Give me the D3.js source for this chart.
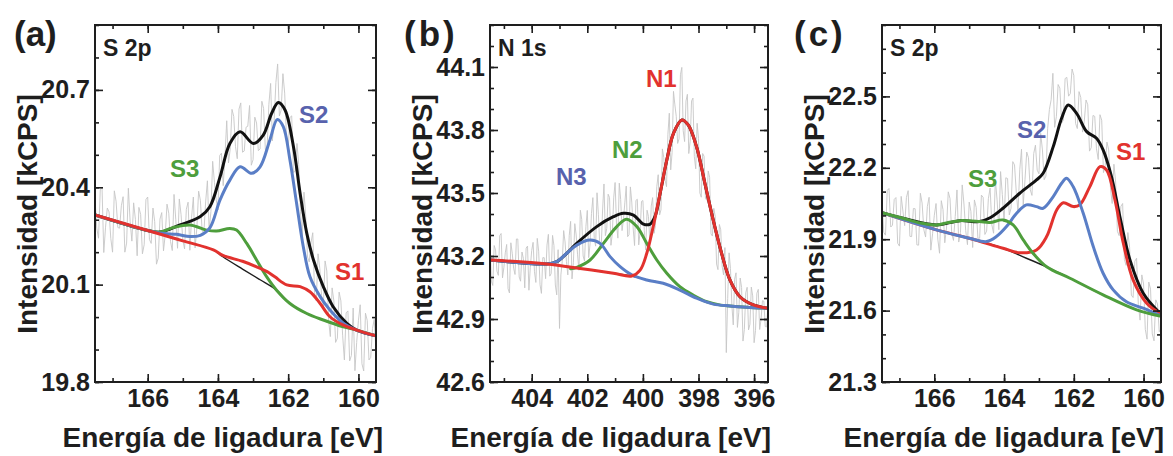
<!DOCTYPE html>
<html><head><meta charset="utf-8">
<script src="https://cdn.jsdelivr.net/npm/d3@7"></script>
<style>
body{margin:0;background:#fff}
svg{display:block}
text{font-family:"Liberation Sans",Arial,Helvetica,sans-serif;font-weight:bold}
</style>
</head><body>
<svg id="chart" width="1173" height="456"></svg>
<script>
// ---------- Panel (a): S 2p ----------
const aXDomain = [167.5, 159.5];
const aYDomain = [19.8, 20.9];
const aXTicks = [166, 164, 162, 160];
const aYTicks = [19.8, 20.1, 20.4, 20.7];
const aRaw = [[167.5,20.365],[167.4,20.243],[167.3,20.40],[167.2,20.277],[167.1,20.324],[167.0,20.20],[166.9,20.357],[166.8,20.274],[166.7,20.371],[166.6,20.228],[166.5,20.295],[166.4,20.352],[166.3,20.189],[166.2,20.316],[166.1,20.223],[166.0,20.37],[165.9,20.227],[165.8,20.294],[165.7,20.182],[165.6,20.322],[165.5,20.255],[165.4,20.32],[165.3,20.205],[165.2,20.30],[165.1,20.364],[165.0,20.238],[164.9,20.332],[164.8,20.206],[164.7,20.37],[164.6,20.275],[164.5,20.36],[164.4,20.26],[164.3,20.42],[164.2,20.325],[164.1,20.415],[164.0,20.33],[163.9,20.505],[163.8,20.495],[163.7,20.475],[163.6,20.64],[163.5,20.525],[163.4,20.641],[163.3,20.508],[163.2,20.585],[163.1,20.652],[163.0,20.485],[162.9,20.598],[162.8,20.518],[162.7,20.643],[162.6,20.52],[162.5,20.72],[162.4,20.605],[162.3,20.78],[162.2,20.638],[162.1,20.69],[162.0,20.52],[161.9,20.62],[161.8,20.45],[161.7,20.47],[161.6,20.25],[161.5,20.31],[161.4,20.17],[161.3,20.26],[161.2,20.05],[161.1,20.15],[161.0,20.034],[160.9,20.142],[160.8,19.94],[160.7,20.05],[160.6,19.935],[160.5,20.05],[160.4,19.868],[160.3,20.019],[160.2,19.882],[160.1,19.835],[160.0,19.99],[159.9,19.856],[159.8,20.012],[159.7,19.868],[159.6,19.965],[159.5,19.892]];
const aRawMid = [[167.45,20.274],[167.35,20.392],[167.25,20.199],[167.15,20.336],[167.05,20.242],[166.95,20.389],[166.85,20.276],[166.75,20.343],[166.65,20.20],[166.55,20.397],[166.45,20.234],[166.35,20.301],[166.25,20.338],[166.15,20.195],[166.05,20.362],[165.95,20.239],[165.85,20.336],[165.75,20.163],[165.65,20.302],[165.55,20.204],[165.45,20.348],[165.35,20.233],[165.25,20.378],[165.15,20.212],[165.05,20.316],[164.95,20.21],[164.85,20.354],[164.75,20.308],[164.65,20.213],[164.55,20.388],[164.45,20.265],[164.35,20.355],[164.25,20.268],[164.15,20.48],[164.05,20.362],[163.95,20.498],[163.85,20.405],[163.75,20.605],[163.65,20.518],[163.55,20.618],[163.45,20.488],[163.35,20.66],[163.25,20.512],[163.15,20.588],[163.05,20.468],[162.95,20.616],[162.85,20.513],[162.75,20.665],[162.65,20.516],[162.55,20.655],[162.45,20.543],[162.35,20.723],[162.25,20.62],[162.15,20.75],[162.05,20.56],[161.95,20.615],[161.85,20.445],[161.75,20.535],[161.65,20.325],[161.55,20.385],[161.45,20.185],[161.35,20.23],[161.25,20.075],[161.15,20.195],[161.05,20.067],[160.95,20.173],[160.85,19.991],[160.75,20.09],[160.65,19.922],[160.55,20.077],[160.45,19.944],[160.35,20.013],[160.25,19.865],[160.15,20.028],[160.05,19.922],[159.95,20.038],[159.85,19.834],[159.75,19.99],[159.65,19.876],[159.55,19.993]];
const aBackground = [[167.5,20.315],[166.0,20.267],[165.0,20.235],[164.13,20.207],[163.86,20.186],[163.3,20.148],[162.8,20.115],[162.33,20.083],[161.95,20.042],[161.47,20.011],[161.0,19.991],[160.43,19.97],[160.05,19.96],[159.5,19.942]];
const aS1 = [[167.5,20.315],[166.0,20.267],[165.0,20.235],[164.13,20.207],[163.86,20.19],[163.3,20.172],[162.9,20.155],[162.6,20.14],[162.38,20.124],[162.04,20.099],[161.66,20.094],[161.38,20.078],[161.09,20.042],[160.81,20.001],[160.43,19.975],[160.05,19.96],[159.5,19.942]];
const aS2 = [[167.5,20.315],[166.0,20.267],[165.6,20.258],[165.17,20.255],[164.8,20.248],[164.5,20.252],[164.23,20.275],[163.94,20.361],[163.66,20.422],[163.37,20.463],[163.04,20.443],[162.8,20.463],[162.52,20.546],[162.31,20.609],[162.14,20.587],[161.95,20.484],[161.76,20.35],[161.57,20.217],[161.38,20.124],[161.09,20.063],[160.81,20.022],[160.43,19.981],[160.05,19.96],[159.5,19.942]];
const aS3 = [[167.5,20.315],[166.0,20.267],[165.65,20.262],[165.3,20.275],[164.8,20.284],[164.32,20.268],[164.04,20.265],[163.66,20.273],[163.47,20.268],[163.18,20.227],[162.9,20.176],[162.61,20.124],[162.33,20.083],[161.95,20.042],[161.47,20.011],[161.0,19.991],[160.43,19.97],[160.05,19.96],[159.5,19.942]];
const aEnvelope = [[167.5,20.315],[166.0,20.267],[165.65,20.262],[165.08,20.284],[164.51,20.309],[164.23,20.34],[163.94,20.432],[163.66,20.535],[163.37,20.571],[162.99,20.535],[162.71,20.561],[162.47,20.628],[162.28,20.661],[162.09,20.638],[161.85,20.525],[161.66,20.381],[161.47,20.258],[161.28,20.176],[161.0,20.094],[160.72,20.032],[160.33,19.981],[160.05,19.96],[159.5,19.942]];

// ---------- Panel (b): N 1s ----------
const bXDomain = [405.5, 395.5];
const bYDomain = [42.6, 44.3];
const bXTicks = [404, 402, 400, 398, 396];
const bYTicks = [42.6, 42.9, 43.2, 43.5, 43.8, 44.1];
const bRaw = [[405.5,43.271],[405.4,43.06],[405.3,43.229],[405.2,43.108],[405.1,43.307],[405.0,43.146],[404.9,43.255],[404.8,43.024],[404.7,43.213],[404.6,43.112],[404.5,43.281],[404.4,43.08],[404.3,43.189],[404.2,43.238],[404.1,43.037],[404.0,43.226],[403.9,43.125],[403.8,43.284],[403.7,43.063],[403.6,43.192],[403.5,43.092],[403.4,43.303],[403.3,43.116],[403.2,43.25],[403.1,43.015],[403.0,42.855],[402.9,43.175],[402.8,43.267],[402.7,43.11],[402.6,43.365],[402.5,43.168],[402.4,43.30],[402.3,43.132],[402.2,43.374],[402.1,43.176],[402.0,43.417],[401.9,43.258],[401.8,43.478],[401.7,43.247],[401.6,43.396],[401.5,43.235],[401.4,43.543],[401.3,43.331],[401.2,43.478],[401.1,43.305],[401.0,43.55],[400.9,43.285],[400.8,43.47],[400.7,43.373],[400.6,43.533],[400.5,43.301],[400.4,43.457],[400.3,43.25],[400.2,43.47],[400.1,43.316],[400.0,43.464],[399.9,43.228],[399.8,43.388],[399.7,43.438],[399.6,43.308],[399.5,43.53],[399.4,43.395],[399.3,43.71],[399.2,43.56],[399.1,43.78],[399.0,43.61],[398.9,43.984],[398.8,43.865],[398.7,43.758],[398.6,44.098],[398.5,43.745],[398.4,43.97],[398.3,43.745],[398.2,43.952],[398.1,43.615],[398.0,43.76],[397.9,43.48],[397.8,43.675],[397.7,43.465],[397.6,43.575],[397.5,43.295],[397.4,43.39],[397.3,43.135],[397.2,43.325],[397.1,43.11],[397.0,42.74],[396.9,43.215],[396.8,42.965],[396.7,43.09],[396.6,42.86],[396.5,43.095],[396.4,42.795],[396.3,43.025],[396.2,42.848],[396.1,43.052],[396.0,42.787],[395.9,43.023],[395.8,42.85],[395.7,42.987],[395.6,42.864],[395.5,42.971]];
const bRawMid = [[405.45,43.08],[405.35,43.25],[405.25,43.128],[405.15,43.297],[405.05,43.096],[404.95,43.215],[404.85,43.044],[404.75,43.263],[404.65,43.142],[404.55,43.281],[404.45,43.10],[404.35,43.219],[404.25,43.048],[404.15,43.247],[404.05,43.146],[403.95,43.265],[403.85,43.074],[403.75,43.223],[403.65,43.022],[403.55,43.192],[403.45,43.252],[403.35,43.104],[403.25,43.298],[403.15,43.062],[403.05,43.23],[402.95,43.11],[402.85,43.321],[402.75,43.173],[402.65,43.297],[402.55,43.091],[402.45,43.354],[402.35,43.206],[402.25,43.418],[402.15,43.20],[402.05,43.341],[401.95,43.192],[401.85,43.403],[401.75,43.282],[401.65,43.501],[401.55,43.25],[401.45,43.419],[401.35,43.297],[401.25,43.494],[401.15,43.251],[401.05,43.477],[400.95,43.352],[400.85,43.547],[400.75,43.321],[400.65,43.453],[400.55,43.292],[400.45,43.529],[400.35,43.333],[400.25,43.465],[400.15,43.253],[400.05,43.46],[399.95,43.321],[399.85,43.418],[399.75,43.263],[399.65,43.478],[399.55,43.344],[399.45,43.587],[399.35,43.42],[399.25,43.67],[399.15,43.53],[399.05,43.88],[398.95,43.692],[398.85,43.92],[398.75,43.736],[398.65,44.063],[398.55,43.796],[398.45,43.938],[398.35,43.688],[398.25,43.938],[398.15,43.673],[398.05,43.832],[397.95,43.50],[397.85,43.688],[397.75,43.475],[397.65,43.605],[397.55,43.305],[397.45,43.427],[397.35,43.162],[397.25,43.35],[397.15,43.152],[397.05,43.24],[396.95,42.997],[396.85,43.14],[396.75,42.872],[396.65,43.12],[396.55,42.932],[396.45,43.05],[396.35,42.85],[396.25,43.051],[396.15,42.875],[396.05,43.01],[395.95,42.845],[395.85,43.041],[395.75,42.898],[395.65,42.985],[395.55,42.862]];
const bBackground = [[405.5,43.181],[403.46,43.162],[402.26,43.141],[401.06,43.118],[400.4,43.105],[399.86,43.086],[399.27,43.07],[398.67,43.038],[398.07,42.999],[397.47,42.971],[396.87,42.962],[396.27,42.956],[395.5,42.951]];
const bN1 = [[405.5,43.181],[403.46,43.162],[402.26,43.141],[401.06,43.118],[400.4,43.105],[400.1,43.133],[399.86,43.213],[399.63,43.34],[399.38,43.499],[399.14,43.657],[398.9,43.784],[398.6,43.848],[398.37,43.824],[398.07,43.72],[397.77,43.546],[397.47,43.371],[397.17,43.213],[396.87,43.086],[396.51,43.006],[396.03,42.967],[395.5,42.951]];
const bN2 = [[402.6,43.139],[402.38,43.146],[401.9,43.181],[401.42,43.26],[400.94,43.34],[400.58,43.375],[400.22,43.34],[399.86,43.26],[399.5,43.181],[399.14,43.118],[398.67,43.054],[398.19,43.014],[397.7,42.982],[397.2,42.966],[396.87,42.962],[396.27,42.956],[395.5,42.951]];
const bN3 = [[405.5,43.181],[403.46,43.162],[403.1,43.173],[402.74,43.213],[402.38,43.252],[401.9,43.276],[401.54,43.26],[401.18,43.197],[400.82,43.149],[400.4,43.11],[399.86,43.086],[399.27,43.07],[398.67,43.038],[398.07,42.999],[397.47,42.971],[396.87,42.962],[396.27,42.956],[395.5,42.951]];
const bEnvelope = [[405.5,43.181],[403.46,43.162],[403.1,43.173],[402.74,43.213],[402.38,43.26],[401.66,43.34],[401.06,43.387],[400.7,43.403],[400.34,43.395],[399.98,43.352],[399.74,43.352],[399.56,43.39],[399.38,43.499],[399.14,43.657],[398.9,43.784],[398.6,43.848],[398.37,43.824],[398.07,43.72],[397.77,43.546],[397.47,43.371],[397.17,43.213],[396.87,43.086],[396.51,43.006],[396.03,42.967],[395.5,42.951]];

// ---------- Panel (c): S 2p ----------
const cXDomain = [167.5, 159.5];
const cYDomain = [21.3, 22.8];
const cXTicks = [166, 164, 162, 160];
const cYTicks = [21.3, 21.6, 21.9, 22.2, 22.5];
const cRaw = [[167.5,22.071],[167.4,21.917],[167.3,22.113],[167.2,21.959],[167.1,22.075],[167.0,21.871],[166.9,22.018],[166.8,22.075],[166.7,21.912],[166.6,22.029],[166.5,21.876],[166.4,22.093],[166.3,21.94],[166.2,22.037],[166.1,21.854],[166.0,22.001],[165.9,21.90],[165.8,22.062],[165.7,21.885],[165.6,22.099],[165.5,21.923],[165.4,21.996],[165.3,21.888],[165.2,22.128],[165.1,21.937],[165.0,22.056],[164.9,21.865],[164.8,22.034],[164.7,21.904],[164.6,22.076],[164.5,21.934],[164.4,22.115],[164.3,21.925],[164.2,22.065],[164.1,22.184],[164.0,21.972],[163.9,22.155],[163.8,22.03],[163.7,22.212],[163.6,22.015],[163.5,22.278],[163.4,22.15],[163.3,22.242],[163.2,22.084],[163.1,22.295],[163.0,22.175],[162.9,22.275],[162.8,22.165],[162.7,22.445],[162.6,22.597],[162.5,22.415],[162.4,22.535],[162.3,22.40],[162.2,22.58],[162.1,22.512],[162.0,22.588],[161.9,22.365],[161.8,22.495],[161.7,22.395],[161.6,22.465],[161.5,22.285],[161.4,22.416],[161.3,22.235],[161.2,22.40],[161.1,22.21],[161.0,22.275],[160.9,22.05],[160.8,22.14],[160.7,21.915],[160.6,22.05],[160.5,21.79],[160.4,21.865],[160.3,21.655],[160.2,21.82],[160.1,21.56],[160.0,21.712],[159.9,21.48],[159.8,21.69],[159.7,21.473],[159.6,21.628],[159.5,21.525]];
const cRawMid = [[167.45,21.929],[167.35,22.105],[167.25,21.951],[167.15,22.067],[167.05,21.883],[166.95,22.08],[166.85,21.957],[166.75,22.104],[166.65,21.911],[166.55,22.028],[166.45,21.875],[166.35,22.052],[166.25,21.909],[166.15,22.076],[166.05,21.923],[165.95,22.05],[165.85,21.841],[165.75,22.024],[165.65,21.947],[165.55,22.071],[165.45,21.895],[165.35,22.107],[165.25,21.928],[165.15,22.048],[165.05,21.877],[164.95,22.016],[164.85,22.065],[164.75,21.904],[164.65,22.085],[164.55,21.92],[164.45,22.07],[164.35,21.96],[164.25,22.15],[164.15,21.94],[164.05,22.088],[163.95,22.158],[163.85,22.002],[163.75,22.226],[163.65,22.098],[163.55,22.192],[163.45,22.044],[163.35,22.266],[163.25,22.108],[163.15,22.26],[163.05,22.19],[162.95,22.345],[162.85,22.15],[162.75,22.365],[162.65,22.486],[162.55,22.37],[162.45,22.55],[162.35,22.388],[162.25,22.575],[162.15,22.501],[162.05,22.615],[161.95,22.387],[161.85,22.52],[161.75,22.35],[161.65,22.485],[161.55,22.27],[161.45,22.42],[161.35,22.28],[161.25,22.423],[161.15,22.18],[161.05,22.308],[160.95,22.118],[160.85,22.215],[160.75,21.933],[160.65,22.038],[160.55,21.815],[160.45,21.928],[160.35,21.665],[160.25,21.808],[160.15,21.625],[160.05,21.75],[159.95,21.521],[159.85,21.72],[159.75,21.502],[159.65,21.645],[159.55,21.511]];
const cBackground = [[167.5,22.011],[165.94,21.939],[165.0,21.904],[164.03,21.862],[163.36,21.82],[162.78,21.784],[162.11,21.736],[161.16,21.666],[160.2,21.603],[159.53,21.577]];
const cS1 = [[167.5,22.011],[165.94,21.939],[165.0,21.904],[164.03,21.862],[163.55,21.843],[163.07,21.855],[162.78,21.911],[162.49,22.023],[162.3,22.053],[162.02,22.037],[161.83,22.044],[161.54,22.121],[161.25,22.205],[161.06,22.191],[160.82,22.065],[160.58,21.883],[160.3,21.729],[159.91,21.631],[159.53,21.589]];
const cS2 = [[167.5,22.011],[165.94,21.939],[165.0,21.904],[164.5,21.89],[164.22,21.911],[163.93,21.953],[163.64,22.009],[163.36,22.044],[163.07,22.037],[162.88,22.03],[162.59,22.079],[162.35,22.135],[162.21,22.156],[162.02,22.121],[161.73,22.009],[161.44,21.868],[161.16,21.757],[160.87,21.687],[160.49,21.637],[160.01,21.61],[159.53,21.58]];
const cS3 = [[167.5,22.011],[166.9,21.988],[166.4,21.968],[165.94,21.96],[165.6,21.97],[165.27,21.978],[164.7,21.974],[164.41,21.97],[164.03,21.981],[163.74,21.96],[163.45,21.897],[163.17,21.841],[162.78,21.784],[162.11,21.736],[161.16,21.666],[160.2,21.603],[159.53,21.577]];
const cEnvelope = [[167.5,22.011],[166.9,21.988],[165.94,21.96],[165.27,21.978],[164.7,21.974],[164.4,21.99],[164.03,22.03],[163.55,22.093],[163.07,22.149],[162.88,22.177],[162.59,22.289],[162.35,22.408],[162.16,22.464],[161.92,22.429],[161.63,22.352],[161.35,22.324],[161.16,22.275],[160.92,22.163],[160.68,21.995],[160.39,21.813],[160.01,21.673],[159.53,21.589]];

// ---------- Text ----------
const xTitle = "Energía de ligadura [eV]";
const yTitle = "Intensidad [kCPS]";

// ---------- Styling / layout ----------
const RED = "#e2322e", BLUE = "#5a7ec6", GREEN = "#4e9e3c", GREY = "#c6c6c6", INK = "#1e1e1e";
const LBL_BLUE = "#5862ad";
const TOP = 25, BOTTOM = 382;

const byEnergy = (p, q) => q[0] - p[0];
const panels = [
  { id:"a", left:95, right:376, titleEnd:383, xDomain:aXDomain, yDomain:aYDomain, xTicks:aXTicks, yTicks:aYTicks,
    raw:aRaw.concat(aRawMid).sort(byEnergy), bg:aBackground, env:aEnvelope,
    comps:[{d:aS3,c:GREEN},{d:aS2,c:BLUE},{d:aS1,c:RED}],
    tag:"(a)", tagX:14, tagSpace:0, core:"S 2p",
    labels:[{t:"S3",x:170,y:177,c:GREEN},{t:"S2",x:299,y:123,c:LBL_BLUE},{t:"S1",x:335,y:280,c:RED}] },
  { id:"b", left:490, right:768, titleEnd:771, xDomain:bXDomain, yDomain:bYDomain, xTicks:bXTicks, yTicks:bYTicks,
    raw:bRaw.concat(bRawMid).sort(byEnergy), bg:bBackground, env:bEnvelope,
    comps:[{d:bN2,c:GREEN},{d:bN3,c:BLUE},{d:bN1,c:RED}],
    tag:"(b)", tagX:404, tagSpace:3, core:"N 1s",
    labels:[{t:"N1",x:646,y:87,c:RED},{t:"N2",x:612,y:158,c:GREEN},{t:"N3",x:556,y:185,c:LBL_BLUE}] },
  { id:"c", left:882, right:1161, titleEnd:1164, xDomain:cXDomain, yDomain:cYDomain, xTicks:cXTicks, yTicks:cYTicks,
    raw:cRaw.concat(cRawMid).sort(byEnergy), bg:cBackground, env:cEnvelope,
    comps:[{d:cS1,c:RED},{d:cS2,c:BLUE},{d:cS3,c:GREEN}],
    tag:"(c)", tagX:794, tagSpace:3, core:"S 2p",
    labels:[{t:"S2",x:1017,y:138,c:LBL_BLUE},{t:"S1",x:1116,y:160,c:RED},{t:"S3",x:968,y:187,c:GREEN}] }
];

const svg = d3.select("#chart");
const defs = svg.append("defs");

panels.forEach(p => {
  const x = d3.scaleLinear().domain(p.xDomain).range([p.left, p.right]);
  const y = d3.scaleLinear().domain(p.yDomain).range([BOTTOM, TOP]);
  const g = svg.append("g");

  defs.append("clipPath").attr("id", "clip-" + p.id)
    .append("rect").attr("x", p.left).attr("y", TOP)
    .attr("width", p.right - p.left).attr("height", BOTTOM - TOP);

  const plot = g.append("g").attr("clip-path", `url(#clip-${p.id})`);
  const lineLin = d3.line().x(d => x(d[0])).y(d => y(d[1]));
  const lineSmooth = d3.line().x(d => x(d[0])).y(d => y(d[1])).curve(d3.curveCatmullRom.alpha(0.5));

  plot.append("path").datum(p.raw).attr("d", lineLin)
    .attr("fill", "none").attr("stroke", GREY).attr("stroke-width", 0.9);
  plot.append("path").datum(p.bg).attr("d", lineSmooth)
    .attr("fill", "none").attr("stroke", INK).attr("stroke-width", 1.4);
  plot.append("path").datum(p.env).attr("d", lineSmooth)
    .attr("fill", "none").attr("stroke", "#111").attr("stroke-width", 3);
  p.comps.forEach(cm => {
    plot.append("path").datum(cm.d).attr("d", lineSmooth)
      .attr("fill", "none").attr("stroke", cm.c).attr("stroke-width", 3)
      .attr("stroke-linejoin", "round").attr("stroke-linecap", "round");
  });

  const xMinor = d3.range(Math.ceil(p.xDomain[1]), Math.floor(p.xDomain[0]) + 1, 1);
  const yMinor = d3.range(Math.round(p.yDomain[0] * 10), Math.round(p.yDomain[1] * 10) + 1).map(v => v / 10);

  const axisStyle = sel => {
    sel.select(".domain").remove();
    sel.selectAll(".tick line").attr("stroke", INK).attr("stroke-width", 1.6);
    sel.attr("font-size", 25).attr("font-family", null).attr("fill", INK);
    sel.selectAll("text").attr("fill", INK);
  };

  g.append("g").attr("transform", `translate(0,${BOTTOM})`)
    .call(d3.axisBottom(x).tickValues(xMinor).tickSize(-4).tickFormat("")).call(axisStyle);
  g.append("g").attr("transform", `translate(0,${BOTTOM})`)
    .call(d3.axisBottom(x).tickValues(p.xTicks).tickSize(-8).tickPadding(7).tickFormat(d3.format("d"))).call(axisStyle);
  g.append("g").attr("transform", `translate(0,${TOP})`)
    .call(d3.axisTop(x).tickValues(xMinor).tickSize(-4).tickFormat("")).call(axisStyle);
  g.append("g").attr("transform", `translate(0,${TOP})`)
    .call(d3.axisTop(x).tickValues(p.xTicks).tickSize(-8).tickFormat("")).call(axisStyle);
  g.append("g").attr("transform", `translate(${p.left},0)`)
    .call(d3.axisLeft(y).tickValues(yMinor).tickSize(-4).tickFormat("")).call(axisStyle);
  g.append("g").attr("transform", `translate(${p.left},0)`)
    .call(d3.axisLeft(y).tickValues(p.yTicks).tickSize(-8).tickPadding(5).tickFormat(d3.format(".1f"))).call(axisStyle);
  g.append("g").attr("transform", `translate(${p.right},0)`)
    .call(d3.axisRight(y).tickValues(yMinor).tickSize(-4).tickFormat("")).call(axisStyle);
  g.append("g").attr("transform", `translate(${p.right},0)`)
    .call(d3.axisRight(y).tickValues(p.yTicks).tickSize(-8).tickFormat("")).call(axisStyle);

  g.append("rect").attr("x", p.left).attr("y", TOP)
    .attr("width", p.right - p.left).attr("height", BOTTOM - TOP)
    .attr("fill", "none").attr("stroke", INK).attr("stroke-width", 2);

  g.append("text").attr("x", p.tagX).attr("y", 46).attr("font-size", 35)
    .attr("letter-spacing", p.tagSpace).attr("fill", INK).text(p.tag);
  g.append("text").attr("x", p.left + 8).attr("y", 56).attr("font-size", 23)
    .attr("fill", INK).text(p.core);
  p.labels.forEach(l => {
    g.append("text").attr("x", l.x).attr("y", l.y).attr("font-size", 24)
      .attr("fill", l.c).text(l.t);
  });
  g.append("text").attr("x", p.titleEnd).attr("y", 447).attr("text-anchor", "end")
    .attr("font-size", 28).attr("fill", INK).text(xTitle);
  g.append("text").attr("transform", `translate(${p.left - 58},214) rotate(-90)`)
    .attr("text-anchor", "middle").attr("font-size", 28).attr("fill", INK).text(yTitle);
});
</script>
</body></html>
